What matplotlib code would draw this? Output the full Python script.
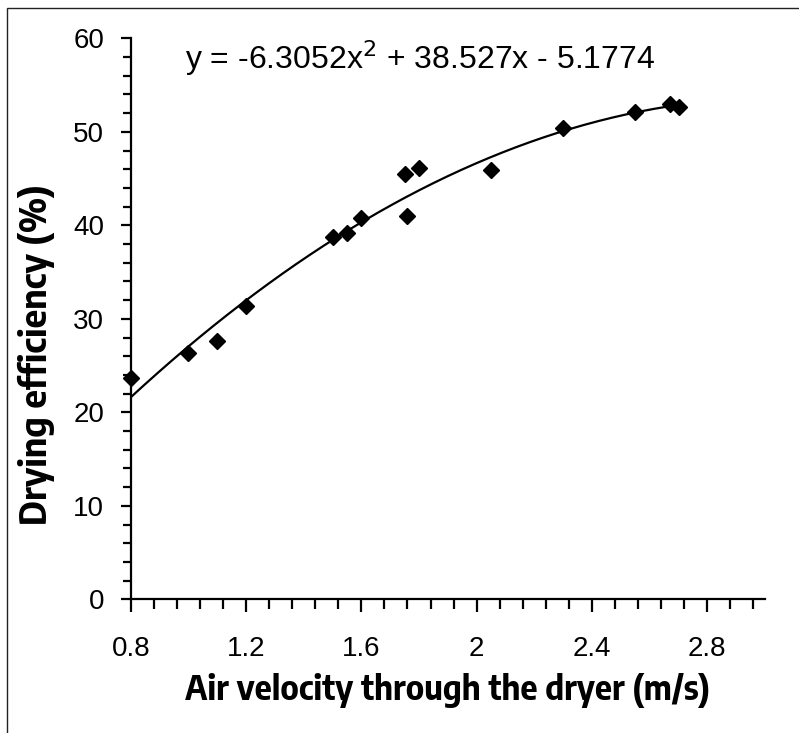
import matplotlib
matplotlib.use("Agg")
import matplotlib.pyplot as plt
import numpy as np
from matplotlib.patches import Rectangle
from matplotlib.ticker import MultipleLocator, FuncFormatter

# Data
air_velocity = [0.80, 1.00, 1.10, 1.20, 1.50, 1.55, 1.60, 1.75, 1.76, 1.80, 2.05, 2.30, 2.55, 2.67, 2.70]
drying_efficiency = [23.7, 26.3, 27.6, 31.4, 38.7, 39.2, 40.8, 45.5, 41.0, 46.1, 45.9, 50.4, 52.1, 53.0, 52.7]

# Trendline coefficients (as printed on the chart)
coef_a, coef_b, coef_c = -6.3052, 38.527, -5.1774

W, H = 799, 733
fig = plt.figure(figsize=(W / 100, H / 100), dpi=100)
fig.patch.set_facecolor("white")

# outer chart-area border (right/bottom edges fall outside the picture)
fig.patches.append(Rectangle((7 / W, -0.05), 1.1, 1 - 8 / H + 0.05,
                             transform=fig.transFigure, fill=False,
                             edgecolor="#222222", linewidth=1.0))

ax = fig.add_axes([130.7 / W, 1 - 599.4 / H, (765 - 130.7) / W, (599.4 - 38.3) / H])

font_label = ["Encode Sans Semi Condensed", "Liberation Sans", "DejaVu Sans"]
font_num = ["Liberation Sans", "DejaVu Sans"]

xs = np.linspace(min(air_velocity), max(air_velocity), 200)
ax.plot(xs, coef_a * xs**2 + coef_b * xs + coef_c, color="black", lw=1.6, zorder=2)
ax.plot(air_velocity, drying_efficiency, linestyle="none", marker="D",
        markersize=8.5, color="black", zorder=3, clip_on=False)

ax.set_xlim(0.8, 3.0)
ax.set_ylim(0, 60)

ax.xaxis.set_major_locator(MultipleLocator(0.4))
ax.xaxis.set_minor_locator(MultipleLocator(0.08))
ax.yaxis.set_major_locator(MultipleLocator(10))
ax.yaxis.set_minor_locator(MultipleLocator(2))
ax.xaxis.set_major_formatter(FuncFormatter(lambda v, p: f"{v:g}"))

for s in ["top", "right"]:
    ax.spines[s].set_visible(False)
for s in ["left", "bottom"]:
    ax.spines[s].set_linewidth(1.6)

ax.tick_params(axis="both", which="both", direction="out", width=1.6, color="black")
ax.tick_params(axis="x", which="major", length=9, pad=17)
ax.tick_params(axis="x", which="minor", length=7)
ax.tick_params(axis="y", which="major", length=7, pad=12)
ax.tick_params(axis="y", which="minor", length=6)

for lab in ax.get_xticklabels():
    lab.set_fontfamily(font_num)
    lab.set_fontsize(20)
for lab in ax.get_yticklabels():
    lab.set_fontfamily(font_num)
    lab.set_fontsize(20)

ax.set_xlabel("Air velocity through the dryer (m/s)", fontsize=24, fontweight="bold",
              family=font_label, labelpad=8)
ax.set_ylabel("Drying efficiency (%)", fontsize=26, fontweight="bold",
              family=font_label)
ax.yaxis.set_label_coords(-0.12, 0.436)

ax.text(0.085, 0.965, r"y = -6.3052x$^{2}$ + 38.527x - 5.1774", transform=ax.transAxes,
        fontsize=23, family=font_num, va="center", ha="left")

fig.savefig("out.png", dpi=100)
